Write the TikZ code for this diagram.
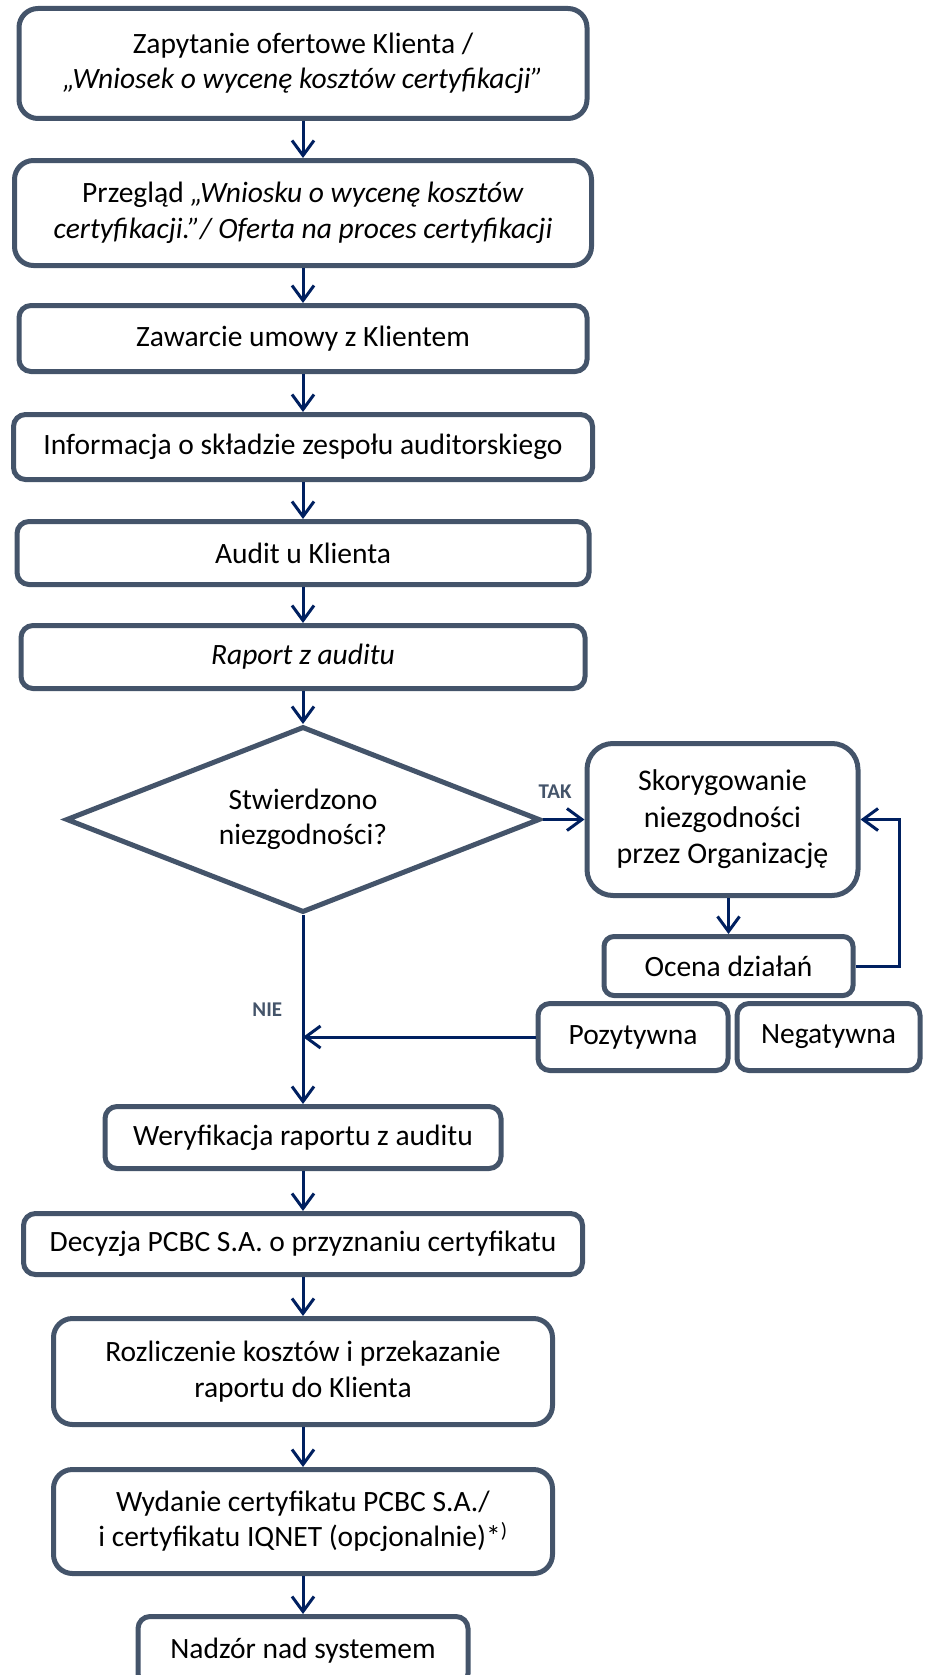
\documentclass[tikz,border=0pt]{standalone}
\usepackage{fontspec}
\setmainfont{Carlito}
\usepackage{xcolor}
\usepackage{tikz}
\usetikzlibrary{arrows.meta,positioning,shapes.geometric}

\definecolor{boxline}{HTML}{44546A}
\definecolor{navy}{HTML}{002060}

\begin{document}
\begin{tikzpicture}[
  box/.style={draw=boxline, line width=5pt, rounded corners=12pt, fill=white,
    align=center, inner sep=4pt, font=\fontsize{29.5}{35.5}\selectfont},
  tall/.style={rounded corners=19pt},
  decis/.style={draw=boxline, line width=5pt, diamond, aspect=2.6, inner sep=0pt,
    fill=white, align=center, font=\fontsize{29.5}{35.5}\selectfont},
  arr/.style={-{Straight Barb[length=15pt, width=22pt]}, draw=navy, line width=3pt},
  lbl/.style={text=boxline, font=\fontsize{21}{25}\selectfont\bfseries}
]
  \useasboundingbox (0,0) rectangle (925pt,-1675pt);

  \node[box, tall, minimum width=568pt, minimum height=110pt] (zapyt) at (303pt,-63.5pt)
    {Zapytanie ofertowe Klienta /\\\textit{„Wniosek o wycenę kosztów certyfikacji”}};
  \node[box, tall, minimum width=577pt, minimum height=105pt, below=37pt of zapyt] (przeglad)
    {Przegląd \textit{„Wniosku o wycenę kosztów}\\\textit{certyfikacji.”/ Oferta na proces certyfikacji}};
  \node[box, minimum width=568pt, minimum height=66pt, below=35pt of przeglad] (umowa)
    {Zawarcie umowy z Klientem};
  \node[box, minimum width=579pt, minimum height=65pt, below=38pt of umowa] (zespol)
    {Informacja o składzie zespołu auditorskiego};
  \node[box, minimum width=572pt, minimum height=63pt, below=37pt of zespol] (audit)
    {Audit u Klienta};
  \node[box, minimum width=564pt, minimum height=63pt, below=36pt of audit] (raport)
    {\textit{Raport z auditu}};
  \node[decis, minimum width=474pt, minimum height=186pt, below=33pt of raport] (niezg)
    {Stwierdzono\\niezgodności?};
  \node[box, rounded corners=26pt, minimum width=271pt, minimum height=152pt, right=42pt of niezg,
    font=\fontsize{30}{36.5}\selectfont] (skoryg)
    {Skorygowanie\\niezgodności\\przez Organizację};
  \node[box, rounded corners=10pt, minimum width=249pt, minimum height=59pt, below=36pt of skoryg, xshift=6pt] (ocena)
    {Ocena działań};
  \node[box, minimum width=190pt, minimum height=67pt, below=3pt of ocena.south west, anchor=north west, xshift=-66pt] (pozyt)
    {Pozytywna};
  \node[box, minimum width=183pt, minimum height=67pt, right=4pt of pozyt] (negat)
    {Negatywna};
  \node[box, minimum width=396pt, minimum height=62pt, below=189pt of niezg] (weryf)
    {Weryfikacja raportu z auditu};
  \node[box, minimum width=559pt, minimum height=61pt, below=40pt of weryf] (decyzja)
    {Decyzja PCBC S.A. o przyznaniu certyfikatu};
  \node[box, tall, minimum width=499pt, minimum height=106pt, below=39pt of decyzja] (rozlicz)
    {Rozliczenie kosztów i przekazanie\\raportu do Klienta};
  \node[box, tall, minimum width=499pt, minimum height=104pt, below=40pt of rozlicz] (wydanie)
    {Wydanie certyfikatu PCBC S.A./\\i certyfikatu IQNET (opcjonalnie)*\textsuperscript{)}};
  \node[box, minimum width=330pt, minimum height=69pt, below=38pt of wydanie] (nadzor)
    {Nadzór nad systemem};

  \coordinate (laczenie) at (pozyt.west -| niezg.south);

  \draw[arr] (zapyt) -- (przeglad);
  \draw[arr] (przeglad) -- (umowa);
  \draw[arr] (umowa) -- (zespol);
  \draw[arr] (zespol) -- (audit);
  \draw[arr] (audit) -- (raport);
  \draw[arr] (raport) -- (niezg);
  \draw[arr] (niezg.east) -- node[lbl, pos=0.3, above=16pt] {TAK} (skoryg);
  \draw[arr] (ocena.north |- skoryg.south) -- (ocena.north);
  \draw[arr] (ocena.east) -- ++(44pt,0) |- (skoryg.east);
  \draw[arr] (pozyt.west) -- (laczenie);
  \draw[arr] (niezg.south) -- node[lbl, left=16pt] {NIE} (weryf.north);
  \draw[arr] (weryf) -- (decyzja);
  \draw[arr] (decyzja) -- (rozlicz);
  \draw[arr] (rozlicz) -- (wydanie);
  \draw[arr] (wydanie) -- (nadzor);
\end{tikzpicture}
\end{document}
